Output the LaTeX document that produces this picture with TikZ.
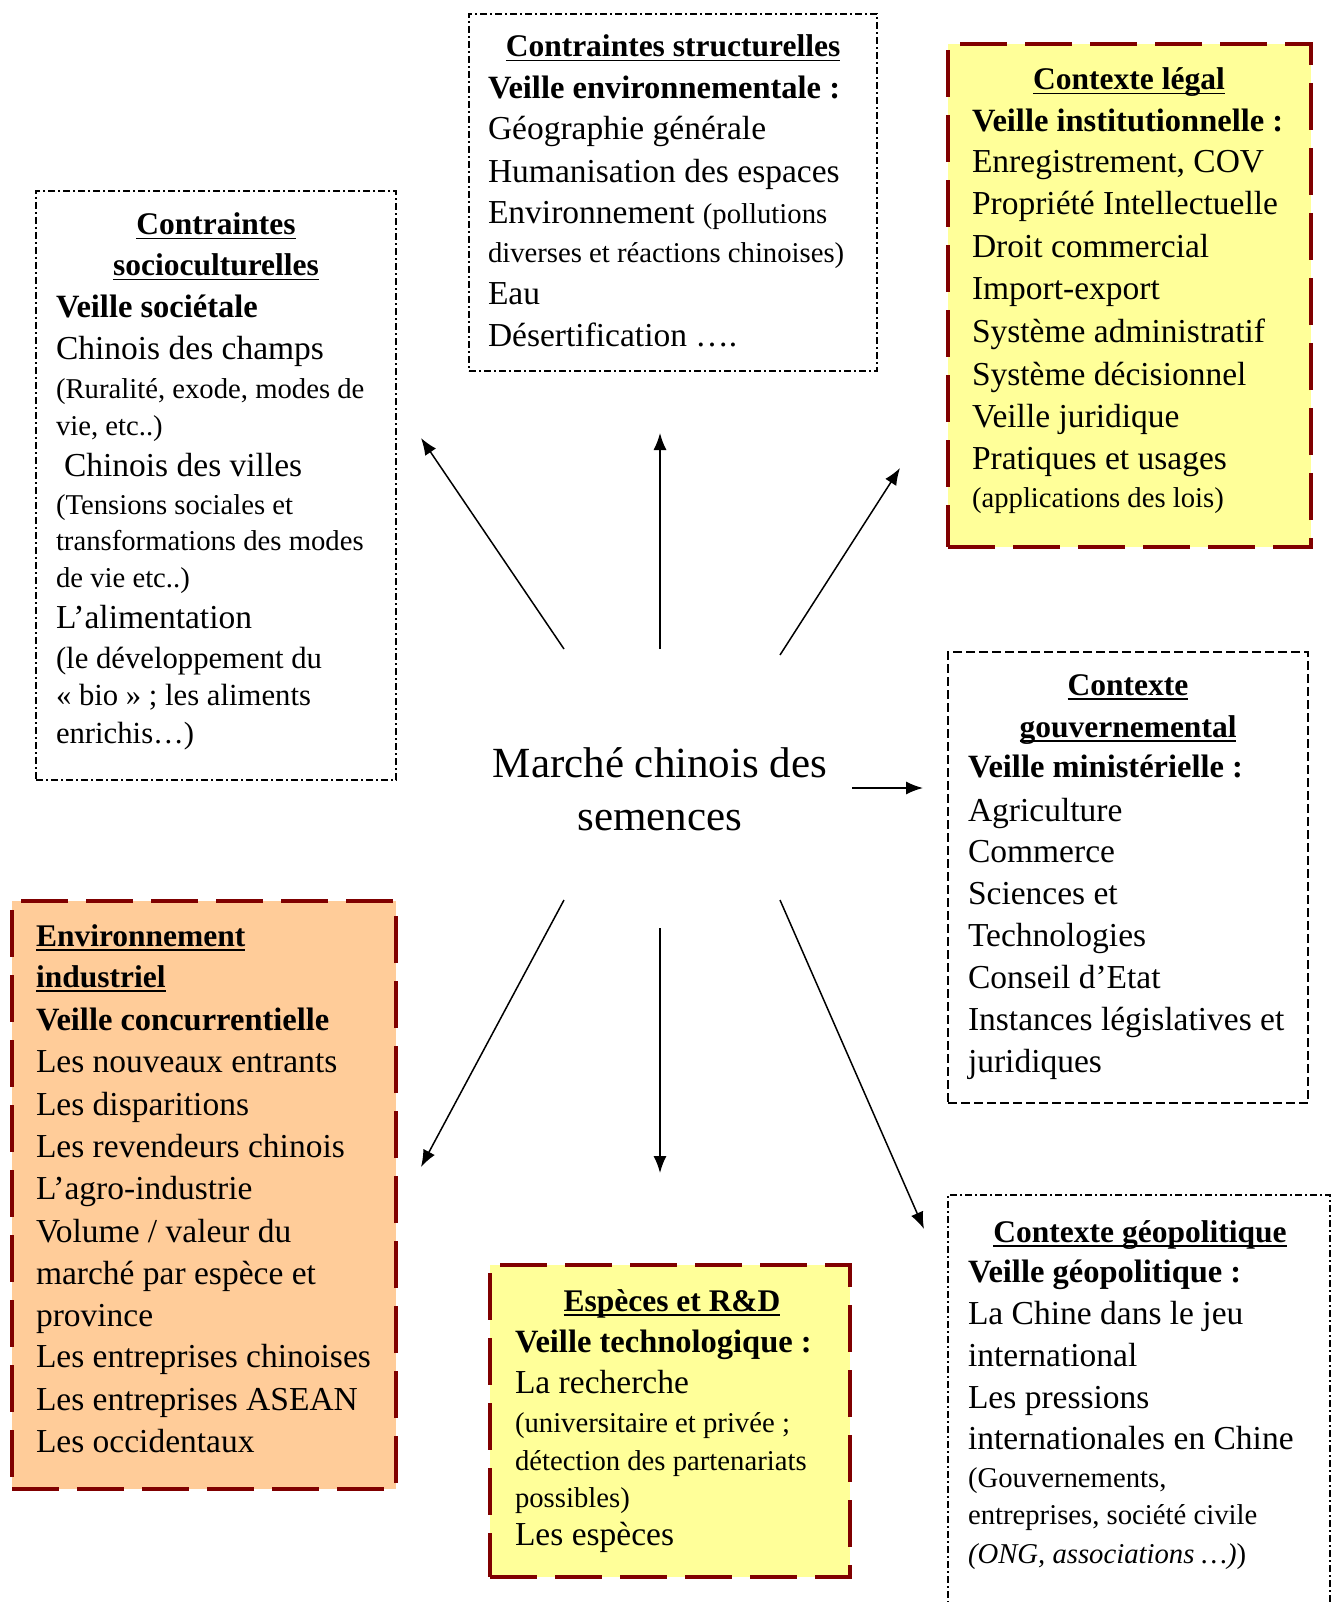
\documentclass[tikz,border=0pt]{standalone}
\usepackage{fontspec}
\setmainfont{Liberation Serif}
\usetikzlibrary{arrows.meta}
\definecolor{maroonc}{RGB}{128,0,0}
\definecolor{lyellow}{RGB}{255,255,153}
\definecolor{lorange}{RGB}{255,204,153}
\newsavebox\ulbox
\newcommand\uln[1]{\sbox\ulbox{#1}\rlap{\rule[-4.5pt]{\wd\ulbox}{1.8pt}}\usebox\ulbox}
\newcommand\smf{\fontsize{28.7}{34}\selectfont}
\tikzset{
  every node/.style={inner sep=0pt, outer sep=0pt},
  nm/.style={anchor=base west, font=\fontsize{33.5}{40}\selectfont},
  sm/.style={anchor=base west, font=\smf},
  md/.style={anchor=base west, font=\fontsize{30.7}{36}\selectfont},
  vb/.style={anchor=base west, font=\fontsize{32.5}{40}\selectfont\bfseries},
  ttl/.style={anchor=base, font=\fontsize{31.5}{40}\selectfont\bfseries},
  ttlw/.style={anchor=base west, font=\fontsize{31.5}{40}\selectfont\bfseries},
  ctr/.style={anchor=base, font=\fontsize{43}{51}\selectfont},
  boxbase/.style={rectangle, anchor=north west, inner sep=0pt},
  dashdot/.style={boxbase, draw=black, line width=1.4pt, dash pattern=on 7pt off 3pt on 2pt off 3pt},
  dashbox/.style={boxbase, draw=black, line width=1.5pt, dash pattern=on 9pt off 4pt},
  redbox/.style={boxbase, draw=maroonc, line width=4pt, dash pattern=on 47pt off 18pt},
  arr/.style={line width=1.5pt, -{Latex[length=17pt,width=13pt]}},
}
\begin{document}
\begin{tikzpicture}[x=1pt,y=-1pt]
\useasboundingbox (0,0) rectangle (1337,1602);
\fill[white] (0,0) rectangle (1337,1602);
\begin{scope}
\clip (0,0) rectangle (1337,1602);
% ---------- boxes ----------
\node[dashdot, minimum width=408pt, minimum height=357pt] (boxA) at (469,14) {};
\node[redbox, fill=lyellow, minimum width=363pt, minimum height=503pt] (boxB) at (948,44) {};
\node[dashdot, minimum width=360pt, minimum height=589pt] (boxC) at (36,191) {};
\node[dashbox, minimum width=360pt, minimum height=451pt] (boxD) at (948,652) {};
\node[redbox, fill=lorange, minimum width=384pt, minimum height=588pt] (boxE) at (12,901) {};
\node[redbox, fill=lyellow, minimum width=360pt, minimum height=312pt] (boxF) at (490,1265) {};
\node[dashdot, minimum width=382pt, minimum height=445pt] (boxG) at (948,1195) {};
\end{scope}
% ---------- box A ----------
\node[ttl] (a1) at (673,57) {\uln{Contraintes structurelles}};
\node[vb] (a2) at (488,99) {Veille environnementale :};
\node[nm] (a3) at (488,140) {Géographie générale};
\node[nm] (a4) at (488,183) {Humanisation des espaces};
\node[nm] (a5) at (488,224) {Environnement {\smf(pollutions}};
\node[sm] (a6) at (488,263) {diverses et réactions chinoises)};
\node[nm] (a7) at (488,305) {Eau};
\node[nm] (a8) at (488,346) {Désertification ….};
% ---------- box B ----------
\node[ttl] (b1) at (1129,90) {\uln{Contexte légal}};
\node[vb] (b2) at (972,132) {Veille institutionnelle :};
\node[nm] (b3) at (972,173) {Enregistrement, COV};
\node[nm] (b4) at (972,215) {Propriété Intellectuelle};
\node[nm] (b5) at (972,258) {Droit commercial};
\node[nm] (b6) at (972,300) {Import-export};
\node[nm] (b7) at (972,342) {Système administratif};
\node[nm] (b8) at (972,385) {Système décisionnel};
\node[nm] (b9) at (972,427) {Veille juridique};
\node[nm] (b10) at (972,469) {Pratiques et usages};
\node[sm] (b11) at (972,507) {(applications des lois)};
% ---------- box C ----------
\node[ttl] (c1) at (216,235) {\uln{Contraintes}};
\node[ttl] (c2) at (216,276) {\uln{socioculturelles}};
\node[vb] (c3) at (56,317) {Veille sociétale};
\node[nm] (c4) at (56,359) {Chinois des champs};
\node[sm] (c5) at (56,398) {(Ruralité, exode, modes de};
\node[sm] (c6) at (56,435) {vie, etc..)};
\node[nm] (c7) at (64,476) {Chinois des villes};
\node[sm] (c8) at (56,514) {(Tensions sociales et};
\node[sm] (c9) at (56,550) {transformations des modes};
\node[sm] (c10) at (56,587) {de vie etc..)};
\node[nm] (c11) at (56,628) {L’alimentation};
\node[md] (c12) at (56,668) {(le développement du};
\node[md] (c13) at (56,705) {« bio » ; les aliments};
\node[md] (c14) at (56,743) {enrichis…)};
% ---------- box D ----------
\node[ttl] (d1) at (1128,695) {\uln{Contexte}};
\node[ttl] (d2) at (1128,737) {\uln{gouvernemental}};
\node[vb] (d3) at (968,777) {Veille ministérielle :};
\node[nm] (d4) at (968,821) {Agriculture};
\node[nm] (d5) at (968,862) {Commerce};
\node[nm] (d6) at (968,904) {Sciences et};
\node[nm] (d7) at (968,946) {Technologies};
\node[nm] (d8) at (968,988) {Conseil d’Etat};
\node[nm] (d9) at (968,1030) {Instances législatives et};
\node[nm] (d10) at (968,1072) {juridiques};
% ---------- box E ----------
\node[ttlw] (e1) at (36,946) {\uln{Environnement}};
\node[ttlw] (e2) at (36,987) {\uln{industriel}};
\node[vb] (e3) at (36,1030) {Veille concurrentielle};
\node[nm] (e4) at (36,1072) {Les nouveaux entrants};
\node[nm] (e5) at (36,1115) {Les disparitions};
\node[nm] (e6) at (36,1157) {Les revendeurs chinois};
\node[nm] (e7) at (36,1199) {L’agro-industrie};
\node[nm] (e8) at (36,1242) {Volume / valeur du};
\node[nm] (e9) at (36,1284) {marché par espèce et};
\node[nm] (e10) at (36,1326) {province};
\node[nm] (e11) at (36,1367) {Les entreprises chinoises};
\node[nm] (e12) at (36,1410) {Les entreprises ASEAN};
\node[nm] (e13) at (36,1452) {Les occidentaux};
% ---------- box F ----------
\node[ttl] (f1) at (672,1311) {\uln{Espèces et R\&D}};
\node[vb] (f2) at (515,1352) {Veille technologique :};
\node[nm] (f3) at (515,1393) {La recherche};
\node[sm] (f4) at (515,1432) {(universitaire et privée ;};
\node[sm] (f5) at (515,1470) {détection des partenariats};
\node[sm] (f6) at (515,1507) {possibles)};
\node[nm] (f7) at (515,1545) {Les espèces};
% ---------- box G ----------
\node[ttl] (g1) at (1140,1242) {\uln{Contexte géopolitique}};
\node[vb] (g2) at (968,1282) {Veille géopolitique :};
\node[nm] (g3) at (968,1324) {La Chine dans le jeu};
\node[nm] (g4) at (968,1366) {international};
\node[nm] (g5) at (968,1408) {Les pressions};
\node[nm] (g6) at (968,1449) {internationales en Chine};
\node[sm] (g7) at (968,1487) {(Gouvernements,};
\node[sm] (g8) at (968,1524) {entreprises, société civile};
\node[sm] (g9) at (968,1563) {\textit{(ONG, associations …)})};
% ---------- centre ----------
\node[ctr] (m1) at (660,777) {Marché chinois des};
\node[ctr] (m2) at (660,830) {semences};
% ---------- arrows ----------
\coordinate (s1) at (564,649); \coordinate (t1) at (421,438);
\coordinate (s2) at (660,649); \coordinate (t2) at (660,433);
\coordinate (s3) at (780,655); \coordinate (t3) at (900,468);
\coordinate (s4) at (852,788); \coordinate (t4) at (923,788);
\coordinate (s5) at (564,900); \coordinate (t5) at (421,1167);
\coordinate (s6) at (660,928); \coordinate (t6) at (660,1173);
\coordinate (s7) at (780,900); \coordinate (t7) at (924,1229);
\draw[arr] (s1) -- (t1);
\draw[arr] (s2) -- (t2);
\draw[arr] (s3) -- (t3);
\draw[arr] (s4) -- (t4);
\draw[arr] (s5) -- (t5);
\draw[arr] (s6) -- (t6);
\draw[arr] (s7) -- (t7);
\end{tikzpicture}
\end{document}
